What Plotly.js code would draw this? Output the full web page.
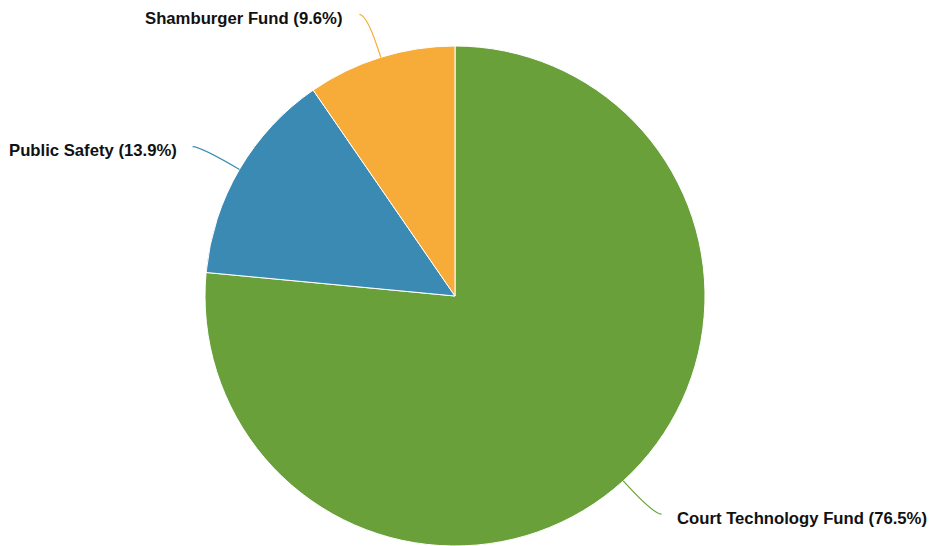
<!DOCTYPE html>
<html>
<head>
<meta charset="utf-8">
<script src="https://cdn.plot.ly/plotly-3.0.1.min.js"></script>
<style>html,body{margin:0;padding:0;background:#fff;}#chart{width:930px;height:546px;}</style>
</head>
<body>
<div id="chart"></div>
<script>
const categories = ["Court Technology Fund", "Public Safety", "Shamburger Fund"];
const values = [76.5, 13.9, 9.6];
const colors = ["#69a03a", "#3b8ab4", "#f7ac39"];

const W = 930, H = 546;
const M = {l: 0, r: 20, t: 46, b: 0};
const plotW = W - M.l - M.r, plotH = H - M.t - M.b;
const cx = M.l + plotW / 2, cy = M.t + plotH / 2;
const R = Math.min(plotW, plotH) / 2;

const toPX = px => (px - M.l) / plotW;
const toPY = py => 1 - (py - M.t) / plotH;

const total = values.reduce((a, b) => a + b, 0);
const shapes = [], annotations = [];
let cum = 0;
values.forEach((v, i) => {
  const mid = (cum + v / 2) / total * 2 * Math.PI; // clockwise from top
  cum += v;
  const s = Math.sin(mid), c = Math.cos(mid);
  const x0 = cx + R * s, y0 = cy - R * c;
  const qx = cx + R * 1.18 * s, qy = cy - R * 1.18 * c;
  const right = s >= 0;
  const ex = qx + (right ? 8 : -8), ey = qy;
  shapes.push({
    type: "path", xref: "paper", yref: "paper",
    path: `M ${toPX(x0)},${toPY(y0)} Q ${toPX(qx)},${toPY(qy)} ${toPX(ex)},${toPY(ey)}`,
    line: {color: colors[i], width: 1.2}
  });
  const pct = (v / total * 100).toFixed(1);
  annotations.push({
    xref: "paper", yref: "paper",
    x: toPX(ex + (right ? 13 : -14)), y: toPY(ey + 4),
    xanchor: right ? "left" : "right", yanchor: "middle",
    text: `<b>${categories[i]} (${pct}%)</b>`,
    showarrow: false,
    font: {family: "Liberation Sans, Arial, sans-serif", size: 16.7, color: "#111"}
  });
});

const data = [{
  type: "pie",
  labels: categories,
  values: values,
  sort: false,
  direction: "clockwise",
  rotation: 0,
  marker: {colors: colors, line: {color: "#ffffff", width: 1}},
  textinfo: "none",
  hoverinfo: "label+percent",
  showlegend: false
}];

const layout = {
  width: W, height: H,
  margin: M,
  paper_bgcolor: "#ffffff",
  plot_bgcolor: "#ffffff",
  showlegend: false,
  shapes: shapes,
  annotations: annotations
};

Plotly.newPlot("chart", data, layout, {displayModeBar: false, staticPlot: true});
</script>
</body>
</html>
